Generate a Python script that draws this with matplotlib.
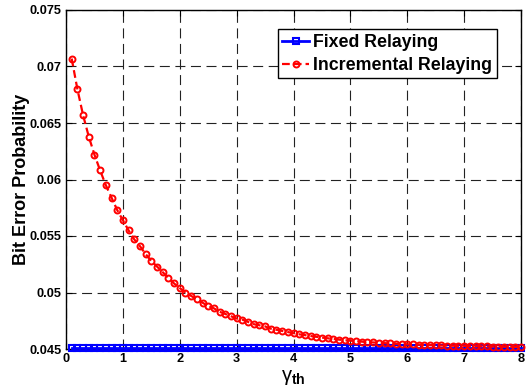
import matplotlib
matplotlib.use("Agg")
import matplotlib.pyplot as plt
import numpy as np

plt.rcParams['font.family'] = ['Liberation Sans', 'DejaVu Sans']
plt.rcParams['mathtext.fontset'] = 'custom'
plt.rcParams['mathtext.rm'] = 'Liberation Sans'
plt.rcParams['mathtext.bf'] = 'Liberation Sans:bold'
plt.rcParams['mathtext.it'] = 'Liberation Sans:italic'

gamma_th = [round(0.1 * i, 1) for i in range(1, 81)]

incremental = [
    0.0707, 0.0680, 0.0657, 0.0638, 0.0622, 0.0608, 0.0595, 0.0584, 0.0573, 0.0564,
    0.0555, 0.0547, 0.0541, 0.0534, 0.0528, 0.0523, 0.0518, 0.0513, 0.0508, 0.0504,
    0.0500, 0.0497, 0.0494, 0.0491, 0.0488, 0.0486, 0.0483, 0.0481, 0.0479, 0.0477,
    0.0476, 0.0474, 0.0472, 0.0471, 0.0470, 0.0468, 0.0467, 0.0466, 0.0465, 0.0464,
    0.0463, 0.04623, 0.04615, 0.04608, 0.04601, 0.04595, 0.04589, 0.04583, 0.04578, 0.04574,
    0.04569, 0.04565, 0.04561, 0.04558, 0.04555, 0.04552, 0.04549, 0.04546, 0.04544, 0.04542,
    0.04540, 0.04538, 0.04536, 0.04534, 0.04533, 0.04531, 0.04530, 0.04529, 0.04528, 0.04527,
    0.04526, 0.04525, 0.04524, 0.04523, 0.04522, 0.04521, 0.04520, 0.04519, 0.04518, 0.04517,
]
fixed = [0.04513] * len(gamma_th)

xticks = [0, 1, 2, 3, 4, 5, 6, 7, 8]
yticks = [0.045, 0.05, 0.055, 0.06, 0.065, 0.07, 0.075]
ytick_labels = ['0.045', '0.05', '0.055', '0.06', '0.065', '0.07', '0.075']

fig = plt.figure(figsize=(5.27, 3.91), dpi=100)
ax = fig.add_axes([66/527, 1-349/391, (521-66)/527, (349-10)/391])

ax.plot(gamma_th, fixed, color='#0000ff', lw=2.0, marker='s', ms=4.2,
        mfc='none', mec='#0000ff', mew=1.5, label='Fixed Relaying', clip_on=False, zorder=3)
ax.plot(gamma_th, incremental, color='#ff0000', lw=1.6, ls=(0, (3.5, 1.8)), marker='o', ms=4.3,
        mfc='none', mec='#ff0000', mew=1.4, label='Incremental Relaying', clip_on=False, zorder=4)

ax.set_xlim(0, 8)
ax.set_ylim(0.045, 0.075)
ax.set_xticks(xticks)
ax.set_xticklabels([str(t) for t in xticks])
ax.set_yticks(yticks)
ax.set_yticklabels(ytick_labels)
ax.tick_params(direction='in', top=True, right=True, length=4, width=0.8,
               labelsize=9.2, pad=3)
for lab in ax.get_xticklabels() + ax.get_yticklabels():
    lab.set_fontweight('bold')

ax.grid(True, color='#222222', ls=(0, (9, 5)), lw=0.8)
for s in ax.spines.values():
    s.set_linewidth(1.0)

ax.set_ylabel('Bit Error Probability', fontsize=13, fontweight='bold', labelpad=0)
ax.set_xlabel(r'$\mathrm{\gamma}_{\mathbf{th}}$', fontsize=14.5, labelpad=2)

leg = ax.legend(loc='upper right', bbox_to_anchor=(0.947, 0.943),
                prop={'weight': 'bold', 'size': 12.8}, fancybox=False, framealpha=1,
                edgecolor='black', borderpad=0.25, handlelength=1.5, handletextpad=0.25,
                labelspacing=0.35, borderaxespad=0)
leg.get_frame().set_linewidth(1.0)

fig.savefig('out.png', dpi=100)
